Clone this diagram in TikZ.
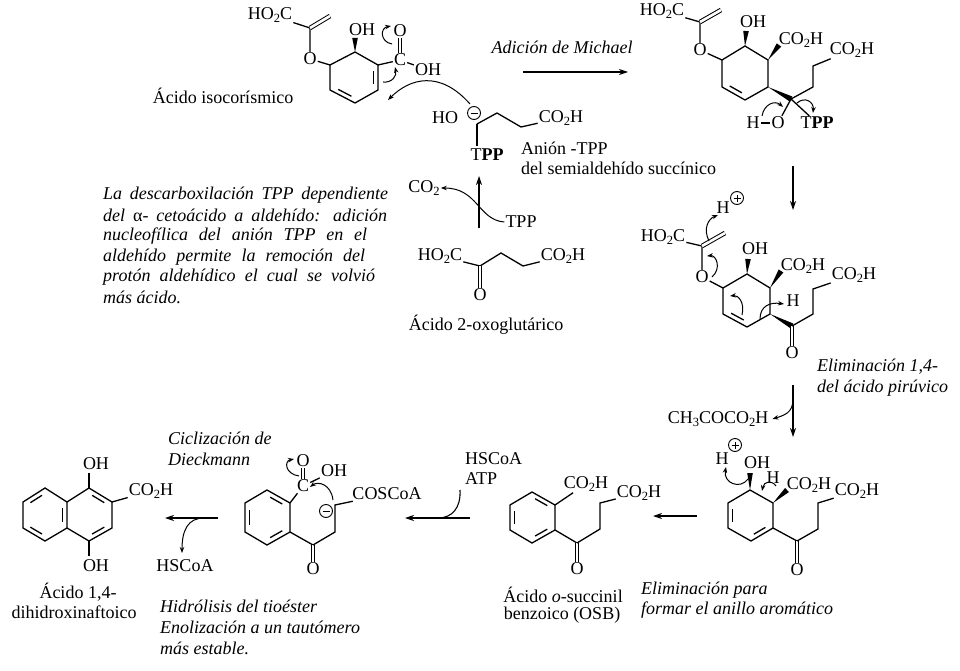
\documentclass[tikz,border=0pt]{standalone}
\usepackage{fontspec}
\setmainfont{Liberation Serif}
\usetikzlibrary{arrows.meta,calc}
\newcommand{\sbs}[1]{\raisebox{-0.38ex}{\fontsize{12.5}{12}\selectfont #1}}
\newcommand{\hoctxt}{HO\sbs{2}C}
\newcommand{\cootxt}{CO\sbs{2}H}
\newcommand{\tpptxt}{T\textbf{PP}}
\newcommand{\ringdb}[3]{\draw[bond] ($ ($(#1)!0.17!(#2)$)!0.2!(#3) $) -- ($ ($(#1)!0.83!(#2)$)!0.2!(#3) $);}
\newcommand{\wedgeb}[2]{\fill (#1) -- ($(#2)!2.8pt!90:(#1)$) -- ($(#2)!2.8pt!-90:(#1)$) -- cycle;}
\begin{document}
\begin{tikzpicture}[x=1pt,y=-1pt,font=\fontsize{18}{20}\selectfont,
  bond/.style={line width=1.3pt},
  dbl/.style={double,double distance=2.6pt,line width=1pt},
  lbl/.style={inner sep=1pt},
  itl/.style={font=\fontsize{18}{20}\selectfont\itshape,inner sep=0pt,anchor=west},
  txt/.style={inner sep=0pt},
  rxn/.style={line width=1.1pt,-{Stealth[length=9pt,width=6pt]}},
  mech/.style={line width=1pt,-{Stealth[length=6pt,width=4.5pt]}},
  chgm/.style={circle,draw,line width=0.9pt,minimum size=13pt,inner sep=0pt,
    path picture={\draw[line width=0.9pt] ([xshift=-3.5pt]path picture bounding box.center) -- ([xshift=3.5pt]path picture bounding box.center);}},
  chgp/.style={circle,draw,line width=0.9pt,minimum size=13pt,inner sep=0pt,
    path picture={\draw[line width=0.9pt] ([xshift=-3.5pt]path picture bounding box.center) -- ([xshift=3.5pt]path picture bounding box.center);
      \draw[line width=0.9pt] ([yshift=-3.5pt]path picture bounding box.center) -- ([yshift=3.5pt]path picture bounding box.center);}}]
\useasboundingbox (0,0) rectangle (960,671);

% ===== S1 isochorismic acid =====
\coordinate (r1a) at (330,65); \coordinate (r1b) at (355,52); \coordinate (r1c) at (378,65);
\coordinate (r1d) at (378,90); \coordinate (r1e) at (355,103); \coordinate (r1f) at (330,90);
\coordinate (c1) at (354,78);
\node[lbl] (h1) at (270,15) {\hoctxt};
\coordinate (v1) at (310,28); \coordinate (ch1) at (330,16);
\node[lbl] (o1) at (310,59) {O};
\draw[bond] (h1) -- (v1) -- (o1);
\draw[dbl] (v1) -- (ch1);
\draw[bond] (o1) -- (r1a);
\draw[bond] (r1a)--(r1b)--(r1c)--(r1d)--(r1e)--(r1f)--cycle;
\ringdb{r1c}{r1d}{c1}
\ringdb{r1e}{r1f}{c1}
\coordinate (w1) at (355,38);
\wedgeb{r1b}{w1}
\node[lbl] (oh1) at (362,30) {OH};
\node[lbl] (cc1) at (400,60) {C};
\node[lbl] (ox1) at (400,31) {O};
\node[lbl] (ohc1) at (428,70) {OH};
\draw[bond] (r1c) -- (cc1);
\draw[dbl] (cc1) -- (ox1);
\draw[bond] (cc1) -- (ohc1);
\draw[mech] (392,44) .. controls (380,42) and (380,28) .. (391,26);
\draw[mech] (383,82) .. controls (392,83) and (397,76) .. (395,67);
\node[txt] (n1) at (223,96) {Ácido isocorísmico};

% ===== anion TPP =====
\node[lbl] (hoa) at (445,118) {HO};
\coordinate (a1) at (477,124); \coordinate (a2) at (497,113); \coordinate (a3) at (521,127);
\node[chgm] (ma) at (474,113) {};
\node[lbl] (ca) at (561,118) {\cootxt};
\draw[bond] (a1) -- (a2) -- (a3) -- (ca);
\node[lbl] (ta) at (487,155) {\tpptxt};
\coordinate (a4) at (477,146);
\draw[bond] (a1) -- (a4);
\node[txt,anchor=north west,align=left] (na) at (521,142) {Anión -TPP\\del semialdehído succínico};
\draw[mech] (470,104) .. controls (440,70) and (410,78) .. (388,100);

% ===== CO2 / TPP =====
\coordinate (up1) at (479,228); \coordinate (up2) at (479,176);
\draw[rxn] (up1) -- (up2);
\node[lbl] (co2) at (424,188) {CO\sbs{2}};
\node[lbl] (tpp2) at (521,222) {TPP};
\draw[mech] (tpp2.west) .. controls (478,220) and (478,188) .. (co2.east);

% ===== 2-oxoglutarate =====
\node[lbl] (h3) at (440,256) {\hoctxt};
\coordinate (k1) at (480,266); \coordinate (k2) at (501,253); \coordinate (k3) at (523,266);
\node[lbl] (ok1) at (480,295) {O};
\node[lbl] (c3) at (563,256) {\cootxt};
\draw[bond] (h3) -- (k1) -- (k2) -- (k3) -- (c3);
\draw[dbl] (k1) -- (ok1);
\node[txt] (n3) at (486,325) {Ácido 2-oxoglutárico};

% ===== paragraph =====
\node[itl] (p1) at (103,195) {\makebox[285pt][s]{La descarboxilación TPP dependiente}};
\node[itl] (p2) at (103,215) {\makebox[284pt][s]{del {\upshape α}- cetoácido a aldehído: adición}};
\node[itl] (p3) at (103,236) {\makebox[264pt][s]{nucleofílica del anión TPP en el}};
\node[itl] (p4) at (103,257) {\makebox[262pt][s]{aldehído permite la remoción del}};
\node[itl] (p5) at (103,277) {\makebox[272pt][s]{protón aldehídico el cual se volvió}};
\node[itl] (p6) at (103,297) {más ácido.};

% ===== Michael =====
\node[txt,font=\fontsize{18}{20}\selectfont\itshape] (mi) at (562,47) {Adición de Michael};
\coordinate (mA) at (523,72); \coordinate (mB) at (628,72);
\draw[rxn] (mA) -- (mB);

% ===== S2 =====
\node[lbl] (h2) at (662,11) {\hoctxt};
\coordinate (v2) at (700,22); \coordinate (ch2) at (721,10);
\node[lbl] (o2) at (700,50) {O};
\draw[bond] (h2) -- (v2) -- (o2);
\draw[dbl] (v2) -- (ch2);
\coordinate (s2a) at (722,60); \coordinate (s2b) at (745,46); \coordinate (s2c) at (768,60);
\coordinate (s2d) at (768,87); \coordinate (s2e) at (745,100); \coordinate (s2f) at (722,87);
\coordinate (c2) at (745,73);
\draw[bond] (o2) -- (s2a);
\draw[bond] (s2a)--(s2b)--(s2c)--(s2d)--(s2e)--(s2f)--cycle;
\ringdb{s2e}{s2f}{c2}
\coordinate (w2a) at (746,31); \wedgeb{s2b}{w2a}
\node[lbl] (oh2) at (753,22) {OH};
\coordinate (w2b) at (779,45); \wedgeb{s2c}{w2b}
\node[lbl] (c2a) at (801,40) {\cootxt};
\coordinate (q2) at (791,99); \wedgeb{s2d}{q2}
\coordinate (p2a) at (813,87); \coordinate (p2b) at (813,66);
\node[lbl] (c2b) at (852,50) {\cootxt};
\draw[bond] (q2) -- (p2a) -- (p2b) -- (c2b);
\node[lbl] (o2b) at (778,123) {O};
\node[lbl] (hh2) at (753,123) {H};
\node[lbl] (t2) at (817,123) {\tpptxt};
\draw[bond] (q2) -- (o2b);
\draw[bond] (hh2) -- (o2b);
\draw[bond] (q2) -- (t2);
\draw[mech] (762,116) .. controls (764,104) and (775,100) .. (783,107);
\draw[mech] (797,103) .. controls (805,96) and (814,102) .. (813,113);

% down arrow
\coordinate (dA) at (793,166); \coordinate (dB) at (793,210);
\draw[rxn] (dA) -- (dB);

% ===== S3 =====
\node[lbl] (hp3) at (723,208) {H};
\node[chgp] (pl3) at (737,198) {};
\node[lbl] (h3b) at (663,237) {\hoctxt};
\coordinate (v3) at (702,246); \coordinate (ch3) at (725,233);
\node[lbl] (o3) at (702,277) {O};
\draw[bond] (h3b) -- (v3) -- (o3);
\draw[dbl] (v3) -- (ch3);
\coordinate (s3a) at (723,288); \coordinate (s3b) at (747,274); \coordinate (s3c) at (770,288);
\coordinate (s3d) at (770,314); \coordinate (s3e) at (747,327); \coordinate (s3f) at (723,314);
\coordinate (cc3) at (747,301);
\draw[bond] (o3) -- (s3a);
\draw[bond] (s3a)--(s3b)--(s3c)--(s3d)--(s3e)--(s3f)--cycle;
\ringdb{s3e}{s3f}{cc3}
\coordinate (w3a) at (748,259); \wedgeb{s3b}{w3a}
\node[lbl] (oh3) at (755,249) {OH};
\coordinate (w3b) at (781,271); \wedgeb{s3c}{w3b}
\node[lbl] (c3a) at (803,266) {\cootxt};
\node[lbl] (hh3) at (793,301) {H};
\coordinate (k3b) at (792,326); \wedgeb{s3d}{k3b}
\node[lbl] (ok3) at (792,353) {O};
\draw[dbl] (k3b) -- (ok3);
\coordinate (p3a) at (813,314); \coordinate (p3b) at (813,289);
\node[lbl] (c3b) at (854,275) {\cootxt};
\draw[bond] (k3b) -- (p3a) -- (p3b) -- (c3b);
\draw[mech] (709,241) .. controls (703,229) and (708,219) .. (718,215);
\draw[mech] (712,277) .. controls (722,268) and (716,255) .. (707,256);
\draw[mech] (742,315) .. controls (745,302) and (738,295) .. (730,296);
\draw[mech] (760,319) .. controls (760,306) and (770,302) .. (784,304);
\node[itl] (e1) at (817,367) {Eliminación 1,4-};
\node[itl] (e2) at (817,388) {del ácido pirúvico};

% down arrow 2
\coordinate (dC) at (793,385); \coordinate (dD) at (793,437);
\draw[rxn] (dC) -- (dD);
\node[lbl] (pyr) at (718,419) {CH\sbs{3}COCO\sbs{2}H};
\draw[mech] (793,394) .. controls (794,410) and (789,414) .. ([xshift=3pt]pyr.east);

% ===== S4 =====
\node[lbl] (hp4) at (722,459) {H};
\node[chgp] (pl4) at (735,445) {};
\coordinate (s4a) at (728,503); \coordinate (s4b) at (750,490); \coordinate (s4c) at (773,503);
\coordinate (s4d) at (773,528); \coordinate (s4e) at (751,541); \coordinate (s4f) at (728,528);
\coordinate (cc4) at (750,516);
\draw[bond] (s4a)--(s4b)--(s4c)--(s4d)--(s4e)--(s4f)--cycle;
\ringdb{s4a}{s4f}{cc4}
\ringdb{s4d}{s4e}{cc4}
\coordinate (w4a) at (750,473); \wedgeb{s4b}{w4a}
\node[lbl] (oh4) at (757,463) {OH};
\coordinate (w4b) at (787,490); \wedgeb{s4c}{w4b}
\node[lbl] (c4a) at (809,485) {\cootxt};
\node[lbl] (hh4) at (773,478) {H};
\coordinate (k4) at (797,541);
\node[lbl] (ok4) at (797,570) {O};
\draw[bond] (s4d) -- (k4);
\draw[dbl] (k4) -- (ok4);
\coordinate (p4a) at (818,529); \coordinate (p4b) at (818,503);
\node[lbl] (c4b) at (857,491) {\cootxt};
\draw[bond] (k4) -- (p4a) -- (p4b) -- (c4b);
\draw[mech] (776,486) .. controls (772,480) and (764,481) .. (762,491);
\draw[mech] (748,479) .. controls (740,490) and (723,483) .. (726,467);
\coordinate (lA) at (697,516); \coordinate (lB) at (653,516);
\draw[rxn] (lA) -- (lB);
\node[itl] (e3) at (641,590) {Eliminación para};
\node[itl] (e4) at (641,610) {formar el anillo aromático};

% ===== OSB =====
\coordinate (o1a) at (555,505); \coordinate (o1b) at (532,492); \coordinate (o1c) at (510,505);
\coordinate (o1d) at (510,530); \coordinate (o1e) at (532,543); \coordinate (o1f) at (555,530);
\coordinate (cc5) at (532,517);
\draw[bond] (o1a)--(o1b)--(o1c)--(o1d)--(o1e)--(o1f)--cycle;
\ringdb{o1a}{o1b}{cc5}
\ringdb{o1c}{o1d}{cc5}
\ringdb{o1e}{o1f}{cc5}
\node[lbl] (c5a) at (586,484) {\cootxt};
\draw[bond] (o1a) -- (c5a);
\coordinate (k5) at (577,543);
\node[lbl] (ok5) at (577,569) {O};
\draw[bond] (o1f) -- (k5);
\draw[dbl] (k5) -- (ok5);
\coordinate (p5a) at (600,529); \coordinate (p5b) at (600,503);
\node[lbl] (c5b) at (639,493) {\cootxt};
\draw[bond] (k5) -- (p5a) -- (p5b) -- (c5b);
\node[txt] (n5a) at (563,595) {Ácido \textit{o}-succinil};
\node[txt] (n5b) at (562,615) {benzoico (OSB)};
\node[txt,anchor=north west,align=left] (hs1) at (465,452) {HSCoA\\ATP};
\coordinate (lC) at (470,518); \coordinate (lD) at (405,518);
\draw[rxn] (lC) -- (lD);
\coordinate (atp1) at (460,490); \coordinate (atp2) at (438,518);
\draw[line width=1.1pt] (atp1) .. controls (461,508) and (452,518) .. (atp2);

% ===== S6 Dieckmann =====
\coordinate (d1) at (290,503); \coordinate (d2) at (267,490); \coordinate (d3) at (245,503);
\coordinate (d4) at (245,532); \coordinate (d5) at (267,545); \coordinate (d6) at (290,532);
\coordinate (cc6) at (267,517);
\draw[bond] (d1)--(d2)--(d3)--(d4)--(d5)--(d6)--cycle;
\ringdb{d1}{d2}{cc6}
\ringdb{d3}{d4}{cc6}
\ringdb{d5}{d6}{cc6}
\node[lbl] (cc6c) at (303,486) {C};
\node[lbl] (o6a) at (303,461) {O};
\node[lbl] (oh6) at (334,471) {OH};
\draw[bond] (d1) -- (cc6c);
\draw[dbl] (cc6c) -- (o6a);
\draw[bond] (cc6c) -- (oh6);
\coordinate (k6) at (313,545);
\node[lbl] (ok6) at (313,569) {O};
\draw[bond] (d6) -- (k6);
\draw[dbl] (k6) -- (ok6);
\coordinate (p6a) at (335,532); \coordinate (p6b) at (335,505);
\node[lbl] (cs6) at (387,494) {COSCoA};
\draw[bond] (k6) -- (p6a) -- (p6b) -- (cs6);
\node[chgm] (m6) at (326,511) {};
\draw[mech] (333,500) .. controls (331,484) and (318,481) .. (310,487);
\draw[mech] (299,476) .. controls (285,474) and (284,461) .. (294,459);
\node[itl] (dk1) at (168,438) {Ciclización de};
\node[itl] (dk2) at (168,459) {Dieckmann};
\coordinate (lE) at (218,518); \coordinate (lF) at (165,518);
\draw[rxn] (lE) -- (lF);
\node[lbl] (hs2) at (185,566) {HSCoA};
\draw[mech] (204,518) .. controls (188,518) and (182,530) .. (182,553);
\node[itl] (hd1) at (160,606) {Hidrólisis del tioéster};
\node[itl] (hd2) at (160,627) {Enolización a un tautómero};
\node[itl] (hd3) at (160,648) {más estable.};

% ===== naphthalene =====
\coordinate (n1) at (45,488); \coordinate (n2) at (67,502); \coordinate (n3) at (67,528);
\coordinate (n4) at (45,541); \coordinate (n5) at (23,528); \coordinate (n6) at (23,502);
\coordinate (m1) at (89,488); \coordinate (m2) at (112,502); \coordinate (m3) at (112,528); \coordinate (m4) at (89,541);
\coordinate (cL) at (45,515); \coordinate (cR) at (89,515);
\draw[bond] (n1)--(n2)--(n3)--(n4)--(n5)--(n6)--cycle;
\draw[bond] (n2)--(m1)--(m2)--(m3)--(m4)--(n3);
\ringdb{n6}{n1}{cL}
\ringdb{n2}{n3}{cL}
\ringdb{n4}{n5}{cL}
\ringdb{m1}{m2}{cR}
\ringdb{m3}{m4}{cR}
\coordinate (m1o) at (89,473); \coordinate (m4o) at (89,556);
\draw[bond] (m1) -- (m1o);
\draw[bond] (m4) -- (m4o);
\node[lbl] (ohn1) at (96,464) {OH};
\node[lbl] (ohn2) at (96,566) {OH};
\node[lbl] (cn) at (151,491) {\cootxt};
\draw[bond] (m2) -- (cn);
\node[txt] (nn1) at (78,592) {Ácido 1,4-};
\node[txt] (nn2) at (74,612) {dihidroxinaftoico};
\end{tikzpicture}
\end{document}
